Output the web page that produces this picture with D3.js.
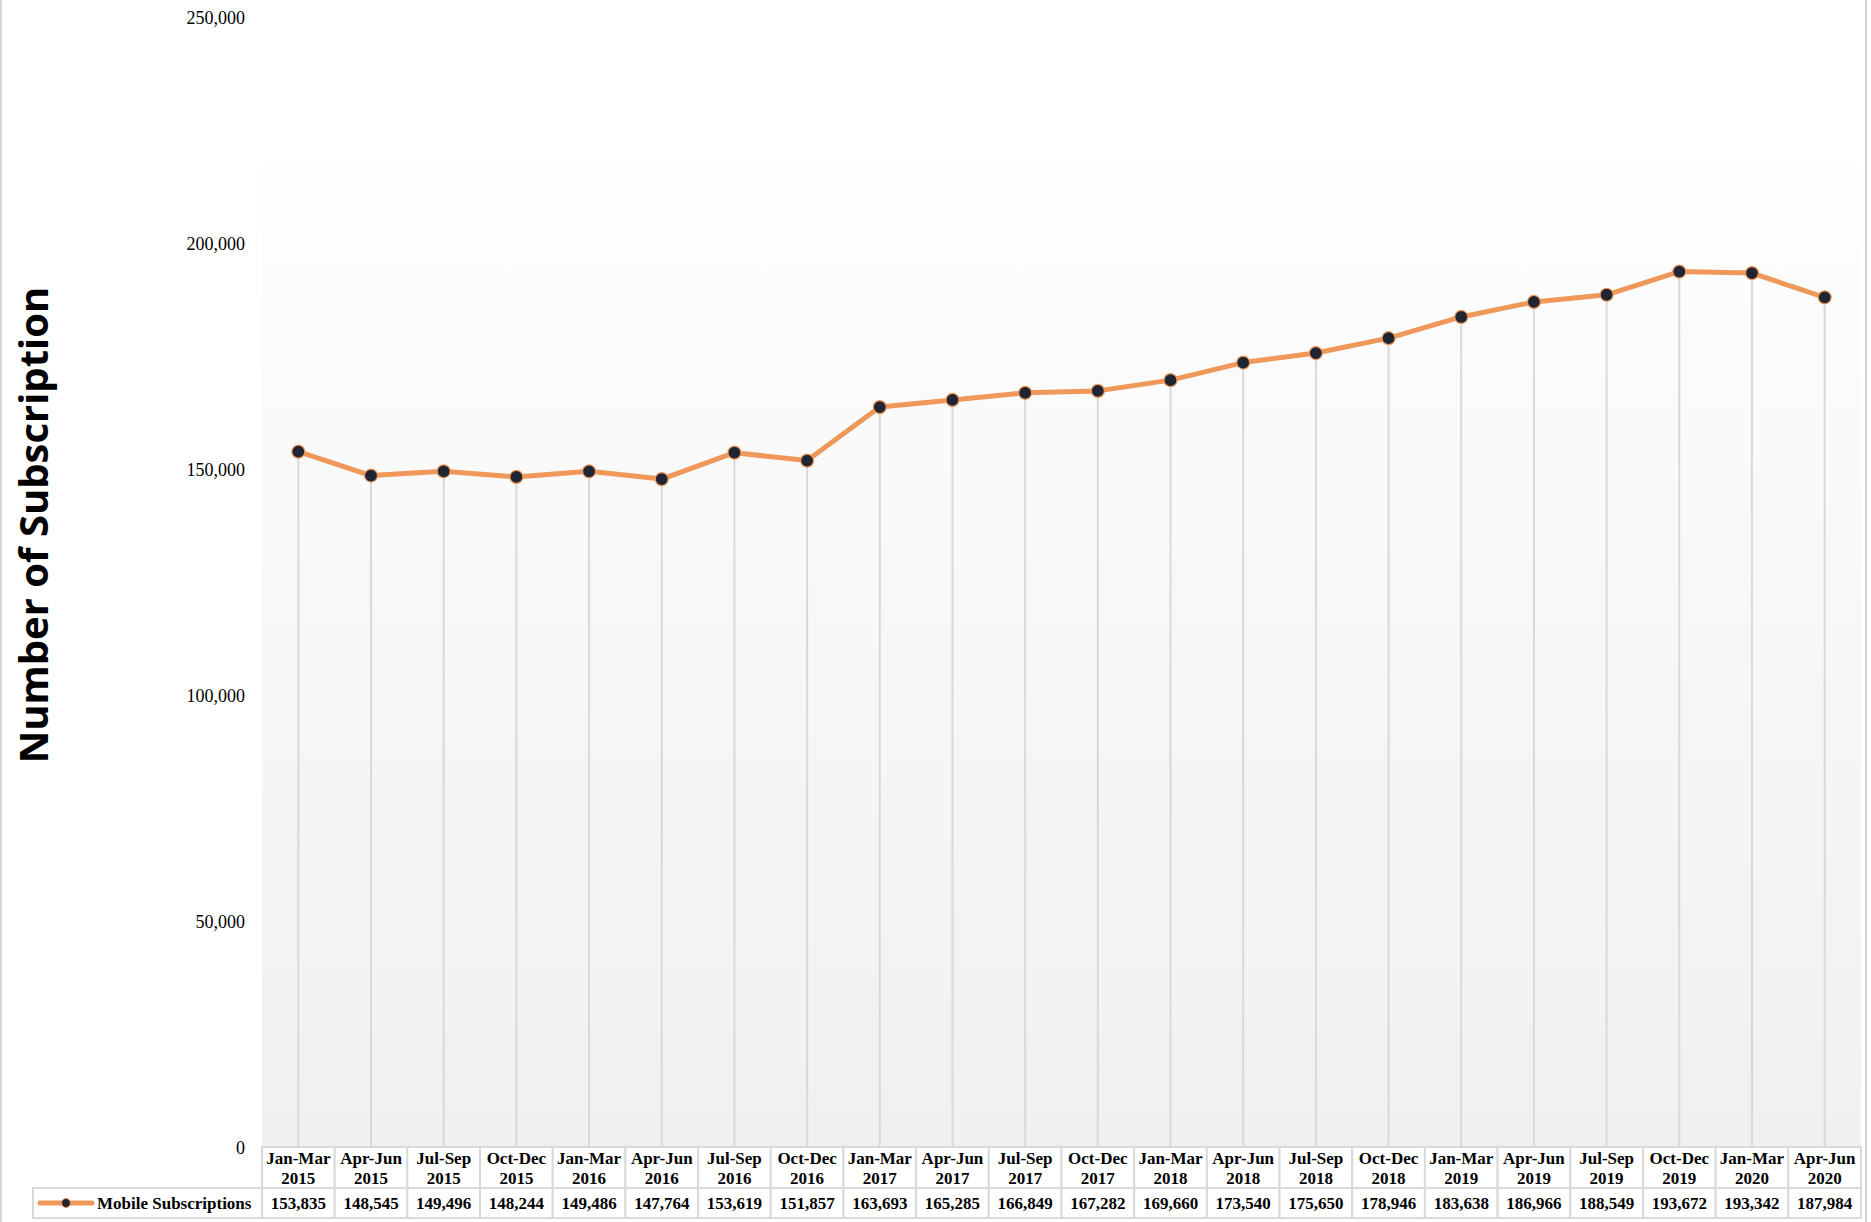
<!DOCTYPE html>
<meta charset="utf-8">
<script src="https://d3js.org/d3.v7.min.js"></script>
<style>
  body { margin: 0; background: #fff; }
  text { font-family: "Liberation Serif", "Times New Roman", serif; fill: #000; }
</style>
<div id="chart"></div>
<script>

// data
var periods = ["Jan-Mar", "Apr-Jun", "Jul-Sep", "Oct-Dec", "Jan-Mar", "Apr-Jun", "Jul-Sep", "Oct-Dec",
  "Jan-Mar", "Apr-Jun", "Jul-Sep", "Oct-Dec", "Jan-Mar", "Apr-Jun", "Jul-Sep", "Oct-Dec",
  "Jan-Mar", "Apr-Jun", "Jul-Sep", "Oct-Dec", "Jan-Mar", "Apr-Jun"];
var years = ["2015", "2015", "2015", "2015", "2016", "2016", "2016", "2016",
  "2017", "2017", "2017", "2017", "2018", "2018", "2018", "2018",
  "2019", "2019", "2019", "2019", "2020", "2020"];
var subscriptions = [153835, 148545, 149496, 148244, 149486, 147764, 153619, 151857,
  163693, 165285, 166849, 167282, 169660, 173540, 175650, 178946,
  183638, 186966, 188549, 193672, 193342, 187984];
var yTicks = [0, 50000, 100000, 150000, 200000, 250000];
var seriesName = "Mobile Subscriptions";
var yTitle = "Number of Subscription";

var W = 1871, H = 1222;
var plot = {left: 262, right: 1861, top: 163, bottom: 1147};
var lineColor = "#f0975a", gridColor = "#d9d9d9";

var svg = d3.select("#chart").append("svg")
  .attr("width", W).attr("height", H);

// outer frame
svg.append("rect")
  .attr("x", 1).attr("y", -2).attr("width", 1865).attr("height", H + 4)
  .attr("fill", "none").attr("stroke", "#d4d4d4").attr("stroke-width", 2);

// plot background gradient
var grad = svg.append("defs").append("linearGradient")
  .attr("id", "bg").attr("x1", 0).attr("y1", 0).attr("x2", 0).attr("y2", 1);
grad.append("stop").attr("offset", "0%").attr("stop-color", "#fefefe");
grad.append("stop").attr("offset", "100%").attr("stop-color", "#f0f0f0");
svg.append("rect")
  .attr("x", plot.left).attr("y", plot.top)
  .attr("width", plot.right - plot.left).attr("height", plot.bottom - plot.top)
  .attr("fill", "url(#bg)");

var keys = d3.range(subscriptions.length);
var x = d3.scaleBand().domain(keys).range([plot.left, plot.right]).padding(0);
var y = d3.scaleLinear().domain([0, 250000]).range([plot.bottom, 17]);
var cx = function(i) { return x(i) + x.bandwidth() / 2; };

// y axis labels
var yAxis = d3.axisLeft(y).tickValues(yTicks).tickFormat(d3.format(",")).tickSize(0).tickPadding(0);
var ya = svg.append("g").attr("transform", "translate(245,0)").call(yAxis);
ya.select(".domain").remove();
ya.selectAll("text")
  .attr("font-family", "Liberation Serif, serif")
  .attr("font-size", 18).attr("fill", "#000").attr("dy", "0.35em");

// y title
svg.append("text")
  .attr("transform", "translate(48,525) rotate(-90)")
  .attr("text-anchor", "middle")
  .style("font-family", "'Open Sans', sans-serif")
  .style("font-weight", 700)
  .style("font-size", "40px")
  .text(yTitle);

// drop lines
svg.append("g").selectAll("line").data(keys).join("line")
  .attr("x1", cx).attr("x2", cx)
  .attr("y1", function(i) { return y(subscriptions[i]); })
  .attr("y2", plot.bottom)
  .attr("stroke", gridColor).attr("stroke-width", 2);

// series line
var line = d3.line()
  .x(cx)
  .y(function(i) { return y(subscriptions[i]); });
svg.append("path").datum(keys)
  .attr("d", line)
  .attr("fill", "none").attr("stroke", lineColor)
  .attr("stroke-width", 5).attr("stroke-linejoin", "round");

svg.append("g").selectAll("circle").data(keys).join("circle")
  .attr("cx", cx)
  .attr("cy", function(i) { return y(subscriptions[i]); })
  .attr("r", 6.5)
  .attr("fill", "#1f2533").attr("stroke", lineColor).attr("stroke-width", 1.2);

// data table
var headTop = plot.bottom, headH = 41, rowTop = headTop + headH, rowH = 30;
var legendLeft = 33;

var tbl = svg.append("g");
tbl.selectAll("rect.head").data(keys).join("rect")
  .attr("class", "head")
  .attr("x", function(i) { return x(i); }).attr("y", headTop)
  .attr("width", x.bandwidth()).attr("height", headH)
  .attr("fill", "#fff").attr("stroke", gridColor).attr("stroke-width", 2);
tbl.selectAll("rect.row").data(keys).join("rect")
  .attr("class", "row")
  .attr("x", function(i) { return x(i); }).attr("y", rowTop)
  .attr("width", x.bandwidth()).attr("height", rowH)
  .attr("fill", "#fff").attr("stroke", gridColor).attr("stroke-width", 2);
tbl.append("rect")
  .attr("x", legendLeft).attr("y", rowTop)
  .attr("width", plot.left - legendLeft).attr("height", rowH)
  .attr("fill", "#fff").attr("stroke", gridColor).attr("stroke-width", 2);

function cell(sel, ty) {
  return sel.attr("x", cx).attr("y", ty)
    .attr("text-anchor", "middle").attr("dy", "0.35em")
    .style("font-weight", 700).style("font-size", "17px");
}

cell(tbl.selectAll("text.p").data(keys).join("text").attr("class", "p"), 1158)
  .text(function(i) { return periods[i]; });
cell(tbl.selectAll("text.yr").data(keys).join("text").attr("class", "yr"), 1178)
  .text(function(i) { return years[i]; });
cell(tbl.selectAll("text.v").data(keys).join("text").attr("class", "v"), rowTop + rowH / 2)
  .text(function(i) { return d3.format(",")(subscriptions[i]); });

// legend key
var ly = rowTop + rowH / 2;
tbl.append("line")
  .attr("x1", 40).attr("x2", 92).attr("y1", ly).attr("y2", ly)
  .attr("stroke", lineColor).attr("stroke-width", 5).attr("stroke-linecap", "round");
tbl.append("circle")
  .attr("cx", 66).attr("cy", ly).attr("r", 4.5)
  .attr("fill", "#1f2533").attr("stroke", lineColor).attr("stroke-width", 1);
tbl.append("text")
  .attr("x", 97).attr("y", ly)
  .attr("dy", "0.35em")
  .style("font-weight", 700).style("font-size", "17px")
  .text(seriesName);

</script>
